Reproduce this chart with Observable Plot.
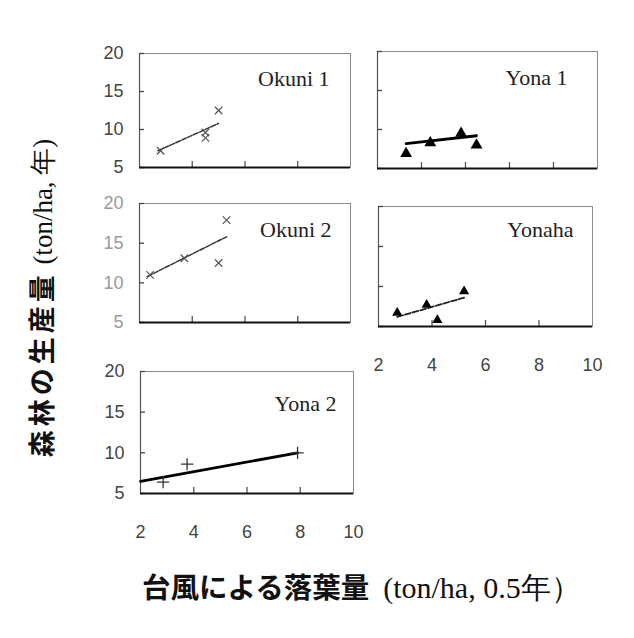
<!DOCTYPE html>
<html>
<head>
<meta charset="utf-8">
<script src="https://cdn.jsdelivr.net/npm/d3@7"></script>
<script src="https://cdn.jsdelivr.net/npm/@observablehq/plot@0.6"></script>
<style>
  html, body { margin: 0; padding: 0; background: #fff; }
  #chart { position: relative; width: 634px; height: 638px; background: #fff; overflow: hidden; }
  #chart svg { position: absolute; overflow: visible; }
  .ttl { position: absolute; white-space: nowrap; color: #111; line-height: 1; }
  .jp { font-family: "Noto Sans CJK JP", sans-serif; font-weight: 700; }
  .lt { font-family: "Liberation Serif", serif; }
</style>
</head>
<body>
<div id="chart"></div>
<script>
// ---- data ----
const panelNames = ["Okuni 1", "Yona 1", "Okuni 2", "Yonaha", "Yona 2"];
const yTickValues = [5, 10, 15, 20];
const xTickValues = [2, 4, 6, 8, 10];

const okuni1X = [2.8, 4.5, 4.5, 5.0];
const okuni1Y = [7.2, 9.6, 8.9, 12.5];
const okuni1FitX = [2.7, 5.0];
const okuni1FitY = [7.2, 10.8];

const yona1X = [3.3, 4.4, 5.8, 6.5];
const yona1Y = [6.9, 8.3, 9.5, 8.0];
const yona1FitX = [3.3, 6.5];
const yona1FitY = [8.2, 9.2];

const okuni2X = [2.4, 3.7, 5.0, 5.3];
const okuni2Y = [11.0, 13.1, 12.5, 17.9];
const okuni2FitX = [2.3, 5.3];
const okuni2FitY = [10.8, 15.8];

const yonahaX = [2.7, 3.8, 4.2, 5.2];
const yonahaY = [6.7, 7.7, 5.8, 9.4];
const yonahaFitX = [2.7, 5.2];
const yonahaFitY = [6.2, 8.6];

const yona2X = [2.85, 3.75, 7.9];
const yona2Y = [6.4, 8.6, 10.0];
const yona2FitX = [2.0, 7.9];
const yona2FitY = [6.5, 10.0];

const yTitleJp = "森林の生産量";
const yTitleUnit = "(ton/ha, 年)";
const xTitleJp = "台風による落葉量";
const xTitleUnit = "(ton/ha, 0.5年）";

// ---- drawing ----
const chart = document.getElementById("chart");
const zip = (a, b) => a.map((v, i) => ({x: v, y: b[i]}));

function panel(o) {
  const mL = 40, mR = 6, mT = 8, mB = o.xLabels ? 52 : 8;
  const w = o.x1 - o.x0, h = o.y1 - o.y0;
  const pts = zip(o.px, o.py);
  const fit = zip(o.fx, o.fy);
  const marks = [
    Plot.frame({stroke: "#8a8a8a", strokeWidth: 1}),
    Plot.ruleX([o.xDomain[0]], {stroke: "#555", strokeWidth: 1.2}),
    Plot.axisY({ticks: yTickValues, tickSize: -5, tickFormat: () => "", label: null, stroke: "#444", strokeWidth: 1.3}),
    Plot.axisX({ticks: o.xTicks, tickSize: -6, tickFormat: () => "", label: null, stroke: "#555", strokeWidth: 1.3}),
    Plot.ruleY([5], {stroke: "#111", strokeWidth: 2})
  ];
  if (o.yLabels) marks.push(Plot.axisY({ticks: yTickValues, tickSize: 0, tickPadding: 16, label: null, fill: o.yColor, fontSize: 18}));
  if (o.xLabels) marks.push(Plot.axisX({ticks: xTickValues, tickSize: 0, tickPadding: 32, label: null, fill: "#444", fontSize: 18}));
  marks.push(
    Plot.line(fit, {x: "x", y: "y", stroke: o.lineColor, strokeWidth: o.lineWidth, strokeDasharray: o.dash}),
    Plot.dot(pts, {x: "x", y: "y", symbol: o.symbol, r: o.r, fill: o.fill, stroke: o.stroke, strokeWidth: o.sw}),
    Plot.text([o.name], {frameAnchor: "top-right", dx: -o.labelInset, dy: o.labelDy, textAnchor: "end",
      lineAnchor: "bottom", fontFamily: "Liberation Serif, serif", fontSize: 22, fill: "#222"})
  );
  const svg = Plot.plot({
    width: mL + w + mR, height: mT + h + mB,
    marginLeft: mL, marginRight: mR, marginTop: mT, marginBottom: mB,
    x: {domain: o.xDomain, axis: null},
    y: {domain: [5, 20], axis: null},
    style: {fontFamily: "'Liberation Sans Narrow', 'Liberation Sans', sans-serif", fontSize: "18px", background: "transparent", overflow: "visible"},
    marks
  });
  svg.style.left = (o.x0 - mL) + "px";
  svg.style.top = (o.y0 - mT) + "px";
  chart.appendChild(svg);
}

const crossStyle = {symbol: "times", r: 3.5, fill: "none", stroke: "#555", sw: 1.2};
panel({name: panelNames[0], x0: 139, x1: 350, y0: 53, y1: 167, xDomain: [2, 10], xTicks: [4, 6, 8],
  yLabels: true, yColor: "#444", xLabels: false, px: okuni1X, py: okuni1Y, fx: okuni1FitX, fy: okuni1FitY,
  lineColor: "#333", lineWidth: 1.5, dash: "5,1.5", ...crossStyle, labelInset: 21, labelDy: 32});
panel({name: panelNames[1], x0: 377, x1: 597, y0: 51, y1: 168, xDomain: [2, 12], xTicks: [4, 6, 8, 10],
  yLabels: false, xLabels: false, px: yona1X, py: yona1Y, fx: yona1FitX, fy: yona1FitY,
  lineColor: "#000", lineWidth: 2.8, dash: null, symbol: "triangle", r: 4.4, fill: "#000", stroke: "none", sw: 0,
  labelInset: 30, labelDy: 33});
panel({name: panelNames[2], x0: 139, x1: 350, y0: 203, y1: 322, xDomain: [2, 10], xTicks: [4, 6, 8],
  yLabels: true, yColor: "#999", xLabels: false, px: okuni2X, py: okuni2Y, fx: okuni2FitX, fy: okuni2FitY,
  lineColor: "#333", lineWidth: 1.5, dash: "5,1.5", ...crossStyle, labelInset: 19, labelDy: 33});
panel({name: panelNames[3], x0: 378, x1: 592, y0: 206, y1: 326, xDomain: [2, 10], xTicks: [4, 6, 8],
  yLabels: false, xLabels: true, px: yonahaX, py: yonahaY, fx: yonahaFitX, fy: yonahaFitY,
  lineColor: "#222", lineWidth: 1.8, dash: "6,2", symbol: "triangle", r: 3.8, fill: "#000", stroke: "none", sw: 0,
  labelInset: 19, labelDy: 30});
panel({name: panelNames[4], x0: 140, x1: 353, y0: 371, y1: 493, xDomain: [2, 10], xTicks: [4, 6, 8],
  yLabels: true, yColor: "#444", xLabels: true, px: yona2X, py: yona2Y, fx: yona2FitX, fy: yona2FitY,
  lineColor: "#000", lineWidth: 2.8, dash: null, symbol: "plus", r: 4, fill: "none", stroke: "#333", sw: 1.3,
  labelInset: 17, labelDy: 39});

// axis titles
const yT = document.createElement("div");
yT.className = "ttl";
yT.innerHTML = `<span class="jp" style="letter-spacing:4px">${yTitleJp}</span> <span class="lt">${yTitleUnit}</span>`;
yT.style.fontSize = "27px";
yT.style.left = "42px"; yT.style.top = "298px";
yT.style.transform = "translate(-50%, -50%) rotate(-90deg)";
chart.appendChild(yT);

const xT = document.createElement("div");
xT.className = "ttl";
xT.innerHTML = `<span class="jp" style="font-size:28.5px">${xTitleJp}</span><span class="lt" style="font-size:30px;margin-left:14px">${xTitleUnit}</span>`;
xT.style.left = "142px"; xT.style.top = "572px";
chart.appendChild(xT);
</script>
</body>
</html>
